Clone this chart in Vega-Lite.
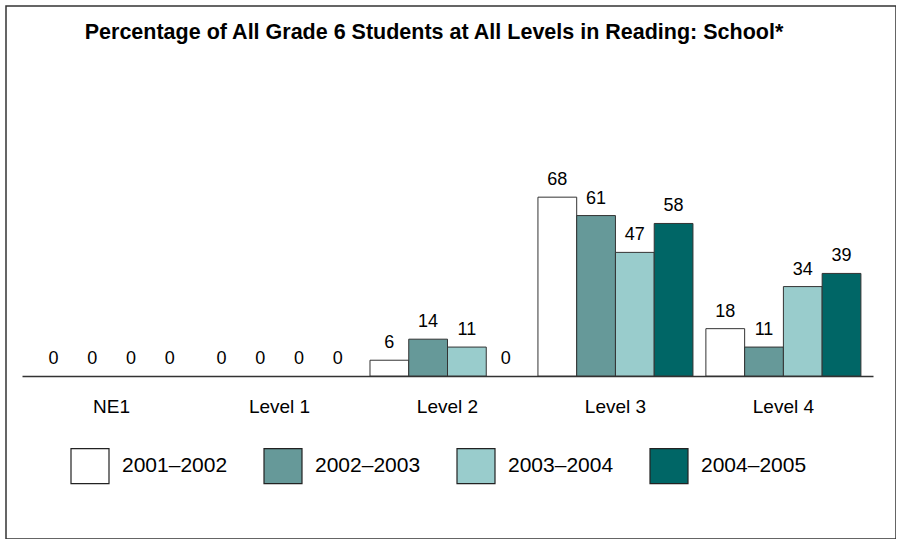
{
  "$schema": "https://vega.github.io/schema/vega-lite/v6.json",
  "width": 890,
  "height": 533,
  "padding": {"left": 6, "top": 6, "right": 0, "bottom": 0},
  "background": "white",
  "title": {
    "text": "Percentage of All Grade 6 Students at All Levels in Reading: School*",
    "font": "Liberation Sans",
    "fontSize": 21.5,
    "fontWeight": "bold",
    "color": "black",
    "anchor": "middle",
    "dx": -17,
    "offset": -37
  },
  "config": {
    "view": {"stroke": "#333", "strokeWidth": 1.5},
    "font": "Liberation Sans"
  },
  "data": {
    "values": [
      {"level": "NE1", "year": "2001–2002", "pct": 0},
      {"level": "NE1", "year": "2002–2003", "pct": 0},
      {"level": "NE1", "year": "2003–2004", "pct": 0},
      {"level": "NE1", "year": "2004–2005", "pct": 0},
      {"level": "Level 1", "year": "2001–2002", "pct": 0},
      {"level": "Level 1", "year": "2002–2003", "pct": 0},
      {"level": "Level 1", "year": "2003–2004", "pct": 0},
      {"level": "Level 1", "year": "2004–2005", "pct": 0},
      {"level": "Level 2", "year": "2001–2002", "pct": 6},
      {"level": "Level 2", "year": "2002–2003", "pct": 14},
      {"level": "Level 2", "year": "2003–2004", "pct": 11},
      {"level": "Level 2", "year": "2004–2005", "pct": 0},
      {"level": "Level 3", "year": "2001–2002", "pct": 68},
      {"level": "Level 3", "year": "2002–2003", "pct": 61},
      {"level": "Level 3", "year": "2003–2004", "pct": 47},
      {"level": "Level 3", "year": "2004–2005", "pct": 58},
      {"level": "Level 4", "year": "2001–2002", "pct": 18},
      {"level": "Level 4", "year": "2002–2003", "pct": 11},
      {"level": "Level 4", "year": "2003–2004", "pct": 34},
      {"level": "Level 4", "year": "2004–2005", "pct": 39}
    ]
  },
  "encoding": {
    "x": {
      "field": "level",
      "type": "nominal",
      "sort": ["NE1", "Level 1", "Level 2", "Level 3", "Level 4"],
      "scale": {"range": [16, 867], "paddingInner": 0.077, "paddingOuter": 0.072},
      "axis": {
        "title": null,
        "orient": "bottom",
        "offset": -163,
        "labelAngle": 0,
        "ticks": false,
        "domainColor": "#333",
        "domainWidth": 1.5,
        "labelFont": "Liberation Sans",
        "labelFontSize": 19,
        "labelColor": "black",
        "labelPadding": 21,
        "grid": false
      }
    },
    "xOffset": {
      "field": "year",
      "type": "nominal",
      "sort": ["2001–2002", "2002–2003", "2003–2004", "2004–2005"],
      "scale": {"paddingInner": 0, "paddingOuter": 0}
    },
    "y": {
      "field": "pct",
      "type": "quantitative",
      "scale": {"domain": [0, 100], "range": [370, 107], "nice": false},
      "axis": null
    }
  },
  "layer": [
    {
      "transform": [{"filter": "datum.pct > 0"}],
      "mark": {"type": "bar", "stroke": "#333", "strokeWidth": 1},
      "encoding": {
        "color": {
          "field": "year",
          "type": "nominal",
          "sort": ["2001–2002", "2002–2003", "2003–2004", "2004–2005"],
          "scale": {
            "domain": ["2001–2002", "2002–2003", "2003–2004", "2004–2005"],
            "range": ["#FFFFFF", "#669999", "#99CCCC", "#006666"]
          },
          "legend": {
            "title": null,
            "orient": "none",
            "direction": "horizontal",
            "columns": 4,
            "legendX": 64,
            "legendY": 440,
            "padding": 0,
            "symbolType": "M-1,-0.92H1V0.92H-1Z",
            "symbolSize": 1444,
            "symbolStrokeColor": "#222",
            "symbolStrokeWidth": 1.2,
            "symbolOpacity": 1,
            "labelFont": "Liberation Sans",
            "labelFontSize": 21,
            "labelColor": "black",
            "labelOffset": 12,
            "columnPadding": 33,
            "labelLimit": 300
          }
        }
      }
    },
    {
      "mark": {
        "type": "text",
        "baseline": "alphabetic",
        "dy": -12,
        "fontSize": 18,
        "font": "Liberation Sans",
        "color": "black"
      },
      "encoding": {
        "text": {"field": "pct", "type": "quantitative"}
      }
    }
  ]
}
